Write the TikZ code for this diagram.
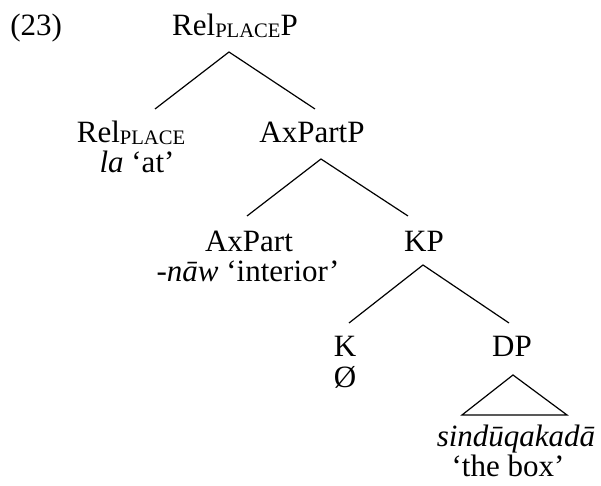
\documentclass[tikz,border=0pt]{standalone}
\usepackage{fontspec}
\setmainfont{Liberation Serif}
% small-cap style index on Rel
\newcommand{\placesub}{\raisebox{-1pt}{\fontsize{10.3}{12}\selectfont PLACE}}

\begin{document}
\begin{tikzpicture}[x=0.5pt, y=-0.5pt,
  every node/.style={inner sep=0pt, anchor=base, font=\fontsize{15.5}{18}\selectfont},
  branch/.style={line width=0.6pt}]
\useasboundingbox (0,0) rectangle (601,486);

\node [anchor=base west] (ex) at (10,36) {(23)};

% labels, level by level
\node (relp)    at (235,36)  {Rel\placesub P};
\node (rel)     at (131,143) {Rel\placesub};
\node (rel-gl)  at (137,173) {\textit{la} `at'};
\node (axpp)    at (312,143) {AxPartP};
\node (axp)     at (249,252) {AxPart};
\node (axp-gl)  at (248,282) {-\textit{nāw} `interior'};
\node (kp)      at (424,252) {KP};
\node (k)       at (345,357) {K};
\node (k-gl)    at (345,388) {Ø};
\node (dp)      at (512,357) {DP};
\node (dp-gl)   at (516,447) {\textit{sindūqakadā}};
\node (dp-tr)   at (508,477) {`the box'};

%%%%%%%%%%%%%%%%%%%%%%%%%%%%%%%%%%%%%%%%

\coordinate (relp-top) at (229,52);
\coordinate (rel-top)  at (155,109);
\coordinate (axpp-top) at (315,109);
\draw [branch] (rel-top) -- (relp-top) -- (axpp-top);

\coordinate (axpp-bot) at (321,159);
\coordinate (axp-top)  at (247,216);
\coordinate (kp-top)   at (408,216);
\draw [branch] (axp-top) -- (axpp-bot) -- (kp-top);

\coordinate (kp-bot) at (423,265);
\coordinate (k-top)  at (349,323);
\coordinate (dp-top) at (509,323);
\draw [branch] (k-top) -- (kp-bot) -- (dp-top);

% roof over the DP
\draw [branch]
     (513,375) coordinate (dp-bot)
  -- (567,415) coordinate (roof-r)
  -- (462,415) coordinate (roof-l)
  -- cycle;

\end{tikzpicture}
\end{document}
